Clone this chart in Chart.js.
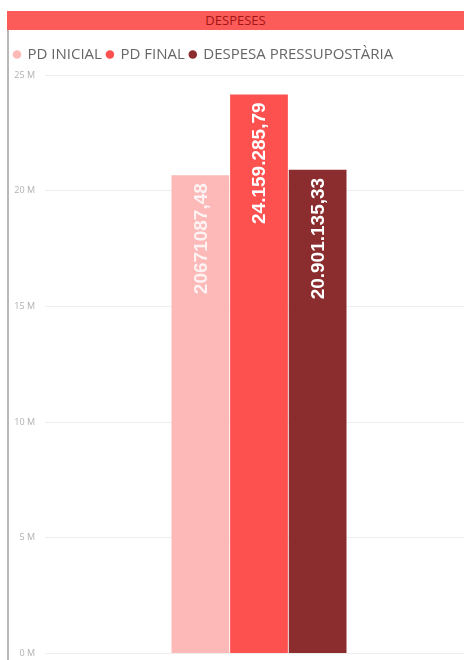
<!DOCTYPE html>
<html>
<head>
<meta charset="utf-8">
<script src="https://cdn.jsdelivr.net/npm/chart.js@4.4.0/dist/chart.umd.min.js"></script>
<style>
  html, body { margin: 0; padding: 0; background: #fff; width: 464px; height: 660px; overflow: hidden; }
  #titol { position: absolute; left: 7px; top: 11px; width: 457px; height: 19px; background: #fb5b59;
           color: #a31515; font: 13px "Open Sans", sans-serif; text-align: center; line-height: 19px; }
  #vora { position: absolute; left: 7px; top: 30px; width: 2px; height: 630px; background: #b8b8b8; }
  #caixa { position: absolute; left: 9px; top: 30px; width: 464px; height: 639px; }
</style>
</head>
<body>
<div id="titol">DESPESES</div>
<div id="vora"></div>
<div id="caixa"><canvas id="despeses"></canvas></div>
<script>
var categories = ["DESPESES"];
var series = ["PD INICIAL", "PD FINAL", "DESPESA PRESSUPOSTÀRIA"];
var values = [20671087.48, 24159285.79, 20901135.33];
var grouping = [false, true, true];
var colors = ["#fdb8b8", "#fd5150", "#8b2d2e"];
var yTicks = [0, 5000000, 10000000, 15000000, 20000000, 25000000];

function formatValue(v, group) {
  return new Intl.NumberFormat("de-DE", {
    minimumFractionDigits: 2, maximumFractionDigits: 2, useGrouping: group
  }).format(v);
}

// rotated value labels just under the top of each bar
var barLabels = {
  id: "barLabels",
  afterDatasetsDraw: function(chart) {
    var ctx = chart.ctx;
    chart.data.datasets.forEach(function(ds, i) {
      var bar = chart.getDatasetMeta(i).data[0];
      ctx.save();
      ctx.translate(bar.x, bar.y + 8);
      ctx.rotate(-Math.PI / 2);
      ctx.font = "bold 19px 'Liberation Sans', Arial, sans-serif";
      ctx.fillStyle = i === 0 ? "#fff2f2" : "#ffffff";
      ctx.textAlign = "right";
      ctx.textBaseline = "middle";
      ctx.fillText(formatValue(ds.data[0], grouping[i]), 0, 1);
      ctx.restore();
    });
  }
};

// a bit more room under the legend
var legendGap = {
  id: "legendGap",
  beforeInit: function(chart) {
    var fit = chart.legend.fit;
    chart.legend.fit = function() {
      fit.bind(chart.legend)();
      this.height += 3;
    };
  }
};

var datasets = series.map(function(name, i) {
  return {
    label: name,
    data: [values[i]],
    backgroundColor: colors[i],
    borderWidth: 0,
    barPercentage: 0.985,
    categoryPercentage: 0.411
  };
});

new Chart(document.getElementById("despeses"), {
  type: "bar",
  data: { labels: categories, datasets: datasets },
  plugins: [barLabels, legendGap],
  options: {
    responsive: true,
    maintainAspectRatio: false,
    animation: false,
    layout: { padding: { left: 0, top: 12, bottom: 4 } },
    plugins: {
      tooltip: { enabled: false },
      legend: {
        position: "top",
        align: "start",
        labels: {
          usePointStyle: true,
          pointStyle: "circle",
          boxWidth: 6,
          boxHeight: 6,
          padding: 5,
          color: "#666",
          font: { family: "'Open Sans', sans-serif", size: 15 }
        }
      }
    },
    scales: {
      x: { display: false },
      y: {
        min: 0,
        max: 25000000,
        afterBuildTicks: function(scale) {
          scale.ticks = yTicks.map(function(v) { return { value: v }; });
        },
        afterFit: function(scale) { scale.width = 36; },
        border: { display: false },
        grid: { color: "#eeeeee", drawTicks: false },
        ticks: {
          padding: 10,
          color: "#b0b0b0",
          font: { family: "'Open Sans', sans-serif", size: 9 },
          callback: function(v) { return (v / 1000000) + " M"; }
        }
      }
    }
  }
});
</script>
</body>
</html>
